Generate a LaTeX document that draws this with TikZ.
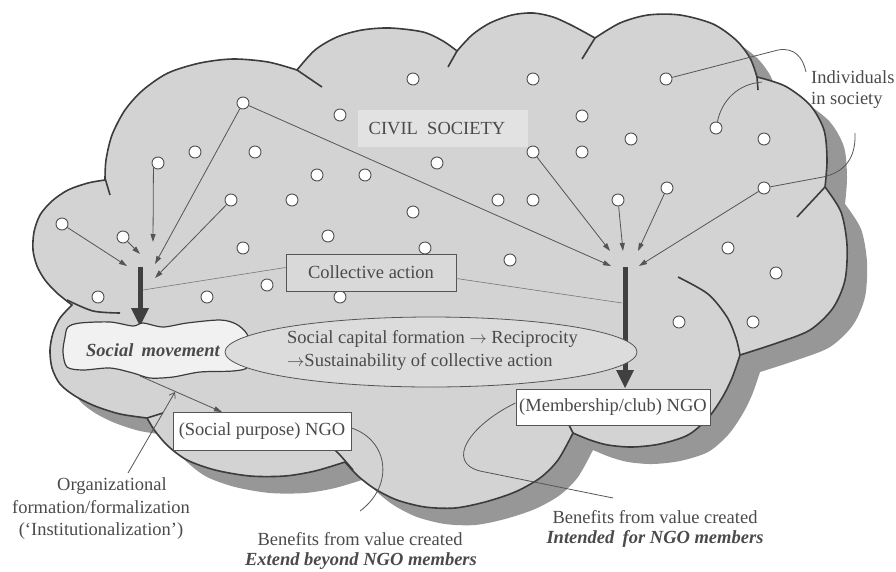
\documentclass[tikz,border=0pt]{standalone}
\usepackage{fontspec}
\setmainfont{Liberation Serif}
\usetikzlibrary{arrows.meta,shapes.geometric,calc}
\definecolor{cloudc}{HTML}{D3D3D3}
\definecolor{shadc}{HTML}{979797}
\definecolor{outc}{HTML}{3C3C3C}
\definecolor{tc}{HTML}{4A4A4A}
\definecolor{linec}{HTML}{555555}
\definecolor{dotc}{HTML}{505050}
\definecolor{barc}{HTML}{404040}
\definecolor{civc}{HTML}{E2E2E2}
\definecolor{cac}{HTML}{D9D9D9}
\definecolor{ellc}{HTML}{DCDCDC}
\definecolor{blobc}{HTML}{F1F1F1}
\begin{document}
\begin{tikzpicture}[x=1pt,y=-1pt,
  txt/.style={font=\fontsize{18.5}{22}\selectfont, text=tc, inner sep=0pt},
  bi/.style={font=\fontsize{18.5}{22}\selectfont\bfseries\itshape, text=tc, inner sep=0pt},
  dot/.style={circle, minimum size=12pt, inner sep=0pt, fill=white, draw=dotc, line width=0.9pt},
  conn/.style={draw=linec, line width=0.8pt},
  tarrow/.style={conn, -{Triangle[length=8pt,width=5pt]}},
  bar/.style={draw=barc, line width=5pt, -{Triangle[length=18pt,width=18pt,line width=0pt]}},
  stub/.style={draw=outc, line width=1.6pt},
  caline/.style={draw=linec!80, line width=0.6pt},
  nbox/.style={txt, draw=linec, line width=1pt, fill=white}
]
\useasboundingbox (0,0) rectangle (896,571);

% shadow
\begin{scope}[shift={(20,17)}]
\fill[shadc] plot[smooth] coordinates {(105,180) (88,183) (68,190) (52,201) (40,215) (34,232) (33,250) (37,266) (45,280) (57,293) (72,305)}
 -- plot[smooth] coordinates {(72,305) (60,318) (53,333) (50,350) (52,368) (60,384) (75,396) (95,406) (120,414) (147,418)}
 -- plot[smooth] coordinates {(147,418) (155,431) (168,446) (187,460) (215,470) (250,476) (285,476) (315,471) (345,462)}
 -- plot[smooth] coordinates {(345,462) (358,476) (375,489) (397,500) (425,507) (455,508) (485,502) (515,492) (540,478) (558,460) (573,433)}
 -- plot[smooth] coordinates {(573,433) (590,440) (608,445) (632,447) (660,444) (688,435) (708,418) (722,398) (732,378) (740,355)}
 -- plot[smooth] coordinates {(740,355) (777,343) (810,330) (833,308) (845,280) (847,245) (841,212) (825,187)}
 -- plot[smooth] coordinates {(825,187) (827,160) (824,130) (810,105) (785,86) (757,77)}
 -- plot[smooth] coordinates {(757,77) (750,58) (736,40) (713,24) (680,15) (648,15) (620,23) (595,38)}
 -- plot[smooth] coordinates {(595,38) (573,26) (553,17) (533,13) (512,15) (490,23) (472,35) (457,51)}
 -- plot[smooth] coordinates {(457,51) (443,41) (423,32) (390,28) (362,30) (337,37) (315,50) (297,70)}
 -- plot[smooth] coordinates {(297,70) (268,62) (233,59) (200,63) (168,73) (143,90) (125,110) (112,135) (106,160) (105,180)} -- cycle;
\end{scope}

% cloud
\filldraw[fill=cloudc, draw=outc, line width=1.6pt, line join=miter] plot[smooth] coordinates {(105,180) (88,183) (68,190) (52,201) (40,215) (34,232) (33,250) (37,266) (45,280) (57,293) (72,305)}
 -- plot[smooth] coordinates {(72,305) (60,318) (53,333) (50,350) (52,368) (60,384) (75,396) (95,406) (120,414) (147,418)}
 -- plot[smooth] coordinates {(147,418) (155,431) (168,446) (187,460) (215,470) (250,476) (285,476) (315,471) (345,462)}
 -- plot[smooth] coordinates {(345,462) (358,476) (375,489) (397,500) (425,507) (455,508) (485,502) (515,492) (540,478) (558,460) (573,433)}
 -- plot[smooth] coordinates {(573,433) (590,440) (608,445) (632,447) (660,444) (688,435) (708,418) (722,398) (732,378) (740,355)}
 -- plot[smooth] coordinates {(740,355) (777,343) (810,330) (833,308) (845,280) (847,245) (841,212) (825,187)}
 -- plot[smooth] coordinates {(825,187) (827,160) (824,130) (810,105) (785,86) (757,77)}
 -- plot[smooth] coordinates {(757,77) (750,58) (736,40) (713,24) (680,15) (648,15) (620,23) (595,38)}
 -- plot[smooth] coordinates {(595,38) (573,26) (553,17) (533,13) (512,15) (490,23) (472,35) (457,51)}
 -- plot[smooth] coordinates {(457,51) (443,41) (423,32) (390,28) (362,30) (337,37) (315,50) (297,70)}
 -- plot[smooth] coordinates {(297,70) (268,62) (233,59) (200,63) (168,73) (143,90) (125,110) (112,135) (106,160) (105,180)} -- cycle;

% inner lobe stubs
\draw[stub] plot[smooth] coordinates {(67,300) (93,311) (120,313)};
\draw[stub] (105,178) -- (110,195);
\draw[stub] (297,70) -- (322,87);
\draw[stub] (457,51) -- (448,67);
\draw[stub] (595,38) -- (582,59);
\draw[stub] (757,77) -- (758,90);
\draw[stub] plot[smooth] coordinates {(825,187) (812,201) (797,217)};
\draw[stub] plot[smooth] coordinates {(740,355) (736,338) (727,317) (708,294) (678,277)};
\draw[stub] (573,433) -- (569,425);
\draw[stub] plot[smooth] coordinates {(353,470) (340,455) (333,448)};
\draw[stub] (147,418) -- (163,413);

% civil society label
\fill[civc] (358,110) rectangle (528,147);
\node[txt] (civil) at (437,129) {CIVIL\hspace{0.5em}SOCIETY};

% dots
\foreach \i/\x/\y in {1/243/103, 2/340/115, 3/413/79, 4/533/79, 5/666/79, 6/582/116, 7/716/128, 8/631/139, 9/764/139, 10/195/152, 11/255/152, 12/158/163, 13/437/163, 14/533/152, 15/582/152, 16/317/175, 17/365/175, 18/231/200, 19/292/200, 20/498/200, 21/533/200, 22/618/200, 23/667/188, 24/764/188, 25/413/212, 26/62/224, 27/123/237, 28/328/236, 29/243/248, 30/425/248, 31/510/260, 32/728/248, 33/776/273, 34/98/297, 35/207/297, 36/267/285, 37/340/297, 38/679/322, 39/753/322}
  \node[dot] (d\i) at (\x,\y) {};

% arrow tips
\coordinate (tA) at (127,266);
\coordinate (tB) at (140,254);
\coordinate (tC) at (153,242);
\coordinate (tD) at (155,264);
\coordinate (tE) at (155,278);
\coordinate (tF) at (611,266);
\coordinate (tG) at (610,251);
\coordinate (tH) at (623,251);
\coordinate (tI) at (638,251);
\coordinate (tJ) at (639,266);

\draw[tarrow] (d26) -- (tA);
\draw[tarrow] (d27) -- (tB);
\draw[tarrow] (d12.south west) -- (tC);
\draw[tarrow] (d1) -- (tD);
\draw[tarrow] (d18) -- (tE);
\draw[tarrow] (d1) -- (tF);
\draw[tarrow] (d14) -- (tG);
\draw[tarrow] (d22) -- (tH);
\draw[tarrow] (d23) -- (tI);
\draw[tarrow] (d24) -- (tJ);

% individuals connectors
\coordinate (i1) at (778,50);
\coordinate (i1e) at (806,72);
\coordinate (i2) at (762,82);
\coordinate (i3a) at (823,177);
\coordinate (i3) at (855,133);
\draw[conn] (d5) -- (i1) .. controls (795,47) and (803,58) .. (i1e);
\draw[conn] (d7) .. controls (722,100) and (738,84) .. (i2);
\draw[conn] (d24) -- (i3a) .. controls (845,172) and (856,158) .. (i3);

% bars
\coordinate (bL1) at (140,267);
\coordinate (bL2) at (140,326);
\coordinate (bR1) at (625,267);
\coordinate (bR2) at (625,388);
\draw[bar] (bL1) -- (bL2);
\draw[bar] (bR1) -- (bR2);

% collective action
\node[txt, draw=linec, line width=1pt, fill=cac, minimum width=170pt, minimum height=37pt] (ca) at (371,272.5) {Collective action};
\coordinate (cL) at (143,290);
\coordinate (cR) at (622,303);
\draw[caline] ([yshift=5pt]ca.west) -- (cL);
\draw[caline] ([yshift=-6pt]ca.east) -- (cR);

% social movement blob
\filldraw[fill=blobc, draw=outc, line width=1.2pt] plot[smooth cycle] coordinates {(65,337) (68,327) (80,323) (110,322) (133,326) (143,323) (163,327) (187,323) (220,320) (236,324) (247,334) (250,350) (248,367) (233,371) (200,372) (173,377) (150,378) (133,373) (110,368) (83,370) (67,367) (63,352)};
\node[bi] (smt) at (153,350) {Social\hspace{0.45em}movement};

% ellipse
\node[ellipse, draw=linec, line width=0.8pt, fill=ellc, minimum width=412pt, minimum height=70pt] (sc) at (431,352) {};
\node[txt, anchor=base west] (sc1) at (287,343) {Social capital formation $\rightarrow$ Reciprocity};
\node[txt, anchor=base west] (sc2) at (287,366) {$\rightarrow$Sustainability of collective action};

% NGO boxes
\node[nbox, minimum width=178pt, minimum height=38pt] (spn) at (262,431) {(Social purpose) NGO};
\node[nbox, minimum width=194pt, minimum height=36pt] (mem) at (613,407) {(Membership/club) NGO};

\coordinate (smB) at (140,376);
\coordinate (spnT) at (222,412);
\draw[tarrow] (smB) -- (spnT);

% organizational label
\node[txt, anchor=base] (org1) at (112,490) {Organizational};
\node[txt, anchor=base] (org2) at (101,513) {formation/formalization};
\node[txt, anchor=base] (org3) at (101,535) {(‘Institutionalization’)};
\coordinate (oA) at (128,473);
\coordinate (oB) at (175,392);
\draw[conn, -{Straight Barb[length=5pt,width=7pt]}] (oA) -- (oB);

% benefits labels
\node[txt, anchor=base] (bl1) at (360,545) {Benefits from value created};
\node[bi, anchor=base] (bl2) at (361,565) {Extend beyond NGO members};
\node[txt, anchor=base] (br1) at (655,523) {Benefits from value created};
\node[bi, anchor=base] (br2) at (655,543) {Intended\hspace{0.45em}for NGO members};
\coordinate (bL) at (360,511);
\coordinate (bRm) at (480,471);
\coordinate (bR) at (613,498);
\draw[conn] ([yshift=3pt]spn.east) .. controls (388,440) and (395,485) .. (bL);
\draw[conn] ([yshift=4pt]mem.west) .. controls (470,425) and (445,462) .. (bRm) -- (bR);

% individuals label
\node[txt, anchor=base west] (ind1) at (811,83) {Individuals};
\node[txt, anchor=base west] (ind2) at (811,104) {in society};
\end{tikzpicture}
\end{document}
